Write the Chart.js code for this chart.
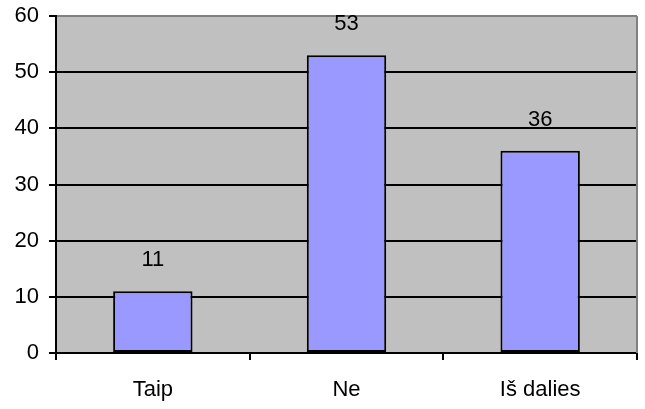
<!DOCTYPE html>
<html>
<head>
<meta charset="utf-8">
<script src="https://cdn.jsdelivr.net/npm/chart.js@4.4.0/dist/chart.umd.min.js"></script>
<style>
  html, body { margin: 0; padding: 0; background: #ffffff; }
  #wrap { width: 645px; height: 409px; }
</style>
</head>
<body>
<div id="wrap"><canvas id="c" width="645" height="409"></canvas></div>
<script>
const categories = ['Taip', 'Ne', 'Iš dalies'];
const values = [11, 53, 36];
const yTicks = [0, 10, 20, 30, 40, 50, 60];

const FONT = { family: '"Liberation Sans", Arial, sans-serif', size: 22 };

// Plot area background and right border
const plotFrame = {
  id: 'plotFrame',
  beforeDraw(chart) {
    const { ctx, chartArea: a } = chart;
    ctx.save();
    ctx.fillStyle = '#c0c0c0';
    ctx.fillRect(a.left, a.top, a.right - a.left, a.bottom - a.top);
    ctx.restore();
  },
  afterDraw(chart) {
    const { ctx, chartArea: a } = chart;
    ctx.save();
    ctx.strokeStyle = '#808080';
    ctx.lineWidth = 2;
    ctx.beginPath();
    ctx.moveTo(a.right, a.top);
    ctx.lineTo(a.right, a.bottom);
    ctx.stroke();
    ctx.restore();
  }
};

// Value labels above each bar
const valueLabels = {
  id: 'valueLabels',
  afterDatasetsDraw(chart) {
    const { ctx } = chart;
    const meta = chart.getDatasetMeta(0);
    ctx.save();
    ctx.fillStyle = '#000';
    ctx.font = FONT.size + 'px ' + FONT.family;
    ctx.textAlign = 'center';
    ctx.textBaseline = 'middle';
    meta.data.forEach((bar, i) => {
      ctx.fillText(String(values[i]), bar.x, bar.y - 31);
    });
    ctx.restore();
  }
};

new Chart(document.getElementById('c'), {
  type: 'bar',
  data: {
    labels: categories,
    datasets: [{
      data: values,
      backgroundColor: '#9999ff',
      borderColor: '#000000',
      borderWidth: 2,
      borderSkipped: false,
      categoryPercentage: 1,
      barPercentage: 0.41
    }]
  },
  options: {
    responsive: false,
    animation: false,
    devicePixelRatio: 1,
    layout: { padding: { top: 16, right: 8, left: 0, bottom: 0 } },
    plugins: { legend: { display: false }, tooltip: { enabled: false } },
    scales: {
      x: {
        offset: true,
        grid: {
          offset: true,
          drawOnChartArea: false,
          drawTicks: true,
          tickLength: 7,
          color: '#000',
          lineWidth: 2
        },
        border: { display: true, color: '#000', width: 2 },
        ticks: { color: '#000', font: FONT, padding: 17 },
        afterFit(scale) {
          scale.height = 56;
          scale.paddingLeft = 0;
          scale.paddingRight = 0;
        }
      },
      y: {
        min: 0,
        max: 60,
        afterBuildTicks(scale) { scale.ticks = yTicks.map(v => ({ value: v })); },
        grid: {
          color: (c) => (c.tick && c.tick.value === 60 ? '#808080' : '#000'),
          lineWidth: 2,
          drawTicks: true,
          tickLength: 7,
          tickColor: '#000'
        },
        border: { display: true, color: '#000', width: 2 },
        ticks: { color: '#000', font: FONT, padding: 10 },
        afterFit(scale) {
          scale.width = 56;
          scale.paddingTop = 0;
          scale.paddingBottom = 0;
        }
      }
    }
  },
  plugins: [plotFrame, valueLabels]
});
</script>
</body>
</html>
